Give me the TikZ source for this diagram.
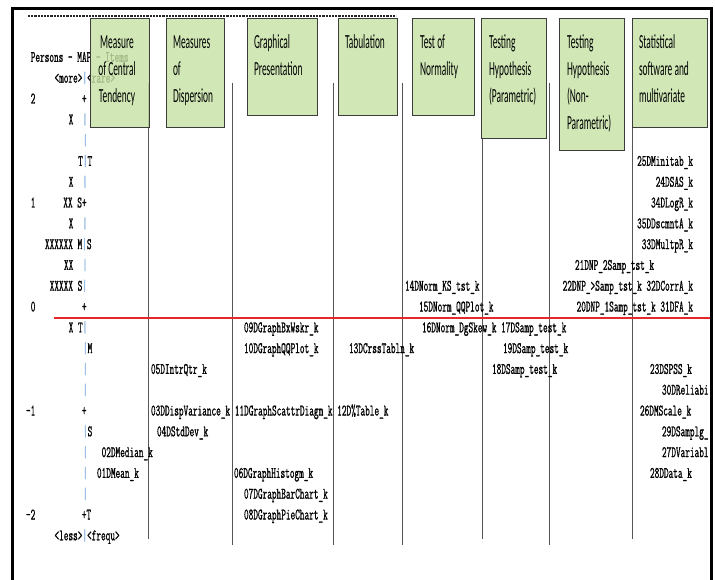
\documentclass[tikz,border=0pt]{standalone}
\usepackage{fontspec}
\usepackage{graphicx}
\newfontfamily\boxfont{Carlito}
\newfontfamily\mapfont{Latin Modern Mono}[FakeBold=1.2]
\definecolor{boxgreen}{RGB}{200,228,166}
\definecolor{boxline}{RGB}{60,60,60}
\definecolor{barblue}{RGB}{130,175,225}
\definecolor{redline}{RGB}{232,40,40}
\definecolor{gridline}{RGB}{85,85,85}
\newcommand\mtxt[1]{\scalebox{0.565}[1]{\fontsize{16}{16}\selectfont\mapfont #1}}
\newcommand\vb{\textcolor{barblue}{|}}
\newcommand\btxt[2]{\scalebox{0.47}[1]{\fontsize{20}{27}\selectfont\boxfont\begin{tabular}[t]{@{}#1@{}}#2\end{tabular}}}
\newcommand\rowy[1]{61.9+20.8*#1}
\newcommand\colx[1]{26+4.75*#1}
\begin{document}
\begin{tikzpicture}[x=1pt,y=-1pt,
  maptext/.style={inner sep=0pt, outer sep=0pt, anchor=base west},
  itemlbl/.style={inner sep=0pt, outer sep=0pt, anchor=base west},
  itemlblr/.style={inner sep=0pt, outer sep=0pt, anchor=base east},
  gbox/.style={draw=boxline, line width=0.9pt, fill=boxgreen, fill opacity=0.82, inner sep=0pt, anchor=north west},
  boxlbl/.style={inner sep=0pt, outer sep=0pt, anchor=base west},
  gridln/.style={draw=gridline, line width=0.8pt},
]
\useasboundingbox (0,0) rectangle (715,580);
\clip (0,0) rectangle (715,580);
\fill[white] (0,0) rectangle (715,580);

% dashed top line
\draw[black!85, line width=1.1pt, dash pattern=on 2.2pt off 1pt] (28,16) -- (396,16);

% vertical column lines
\draw[gridln] (148,83) -- (148,539);
\draw[gridln] (232,83) -- (232,545);
\draw[gridln] (333,83) -- (333,545);
\draw[gridln] (402,83) -- (402,545);
\draw[gridln] (482,138) -- (482,539);
\draw[gridln] (549,83) -- (549,545);
\draw[gridln] (632,127) -- (632,539);

% red zero line
\draw[redline, line width=2pt] (54,318) -- (712,318);

% person map
\node[maptext] (p0) at ({\colx{1}},{\rowy{0}}) {\mtxt{Persons~-~MAP~-~Items}};
\node[maptext] (p1) at ({\colx{6}},{\rowy{1}}) {\mtxt{<more>\vb<rare>}};
\node[maptext] (p2) at ({\colx{1}},{\rowy{2}}) {\mtxt{2~~~~~~~~~~+}};
\node[maptext] (p3) at ({\colx{9}},{\rowy{3}}) {\mtxt{X~~\vb}};
\node[maptext] (p4) at ({\colx{12}},{\rowy{4}}) {\mtxt{\vb}};
\node[maptext] (p5) at ({\colx{11}},{\rowy{5}}) {\mtxt{T\vb T}};
\node[maptext] (p6) at ({\colx{9}},{\rowy{6}}) {\mtxt{X~~\vb}};
\node[maptext] (p7) at ({\colx{1}},{\rowy{7}}) {\mtxt{1~~~~~~XX~S+}};
\node[maptext] (p8) at ({\colx{9}},{\rowy{8}}) {\mtxt{X~~\vb}};
\node[maptext] (p9) at ({\colx{4}},{\rowy{9}}) {\mtxt{XXXXXX~M\vb S}};
\node[maptext] (p10) at ({\colx{8}},{\rowy{10}}) {\mtxt{XX~~\vb}};
\node[maptext] (p11) at ({\colx{5}},{\rowy{11}}) {\mtxt{XXXXX~S\vb}};
\node[maptext] (p12) at ({\colx{1}},{\rowy{12}}) {\mtxt{0~~~~~~~~~~+}};
\node[maptext] (p13) at ({\colx{9}},{\rowy{13}}) {\mtxt{X~T\vb}};
\node[maptext] (p14) at ({\colx{12}},{\rowy{14}}) {\mtxt{\vb M}};
\node[maptext] (p15) at ({\colx{12}},{\rowy{15}}) {\mtxt{\vb}};
\node[maptext] (p16) at ({\colx{12}},{\rowy{16}}) {\mtxt{\vb}};
\node[maptext] (p17) at ({\colx{0}},{\rowy{17}}) {\mtxt{-1~~~~~~~~~~+}};
\node[maptext] (p18) at ({\colx{12}},{\rowy{18}}) {\mtxt{\vb S}};
\node[maptext] (p19) at ({\colx{12}},{\rowy{19}}) {\mtxt{\vb~~~02DMedian\_k}};
\node[maptext] (p20) at ({\colx{12}},{\rowy{20}}) {\mtxt{\vb~~01DMean\_k}};
\node[maptext] (p21) at ({\colx{12}},{\rowy{21}}) {\mtxt{\vb}};
\node[maptext] (p22) at ({\colx{0}},{\rowy{22}}) {\mtxt{-2~~~~~~~~~~+T}};
\node[maptext] (p23) at ({\colx{6}},{\rowy{23}}) {\mtxt{<less>\vb<frequ>}};

% item labels
\node[itemlblr] (i25) at (693,{\rowy{5}}) {\mtxt{25DMinitab\_k}};
\node[itemlblr] (i24) at (693,{\rowy{6}}) {\mtxt{24DSAS\_k}};
\node[itemlblr] (i34) at (693,{\rowy{7}}) {\mtxt{34DLogR\_k}};
\node[itemlblr] (i35) at (693,{\rowy{8}}) {\mtxt{35DDscmntA\_k}};
\node[itemlblr] (i33) at (693,{\rowy{9}}) {\mtxt{33DMultpR\_k}};
\node[itemlbl] (i21) at (575,{\rowy{10}}) {\mtxt{21DNP\_2Samp\_tst\_k}};
\node[itemlbl] (i14) at (405,{\rowy{11}}) {\mtxt{14DNorm\_KS\_tst\_k}};
\node[itemlblr] (i22) at (693,{\rowy{11}}) {\mtxt{22DNP\_>Samp\_tst\_k~32DCorrA\_k}};
\node[itemlbl] (i15) at (419,{\rowy{12}}) {\mtxt{15DNorm\_QQPlot\_k}};
\node[itemlblr] (i20) at (693,{\rowy{12}}) {\mtxt{20DNP\_1Samp\_tst\_k~31DFA\_k}};
\node[itemlbl] (i09) at (244,{\rowy{13}}) {\mtxt{09DGraphBxWskr\_k}};
\node[itemlbl] (i16) at (422,{\rowy{13}}) {\mtxt{16DNorm\_DgSkew\_k~17DSamp\_test\_k}};
\node[itemlbl] (i10) at (244,{\rowy{14}}) {\mtxt{10DGraphQQPlot\_k}};
\node[itemlbl] (i13) at (349,{\rowy{14}}) {\mtxt{13DCrssTabln\_k}};
\node[itemlbl] (i19) at (503,{\rowy{14}}) {\mtxt{19DSamp\_test\_k}};
\node[itemlbl] (i05) at (151,{\rowy{15}}) {\mtxt{05DIntrQtr\_k}};
\node[itemlbl] (i18) at (492,{\rowy{15}}) {\mtxt{18DSamp\_test\_k}};
\node[itemlbl] (i23) at (650,{\rowy{15}}) {\mtxt{23DSPSS\_k}};
\node[itemlbl] (i30) at (662,{\rowy{16}}) {\mtxt{30DReliabi}};
\node[itemlbl] (i03) at (151,{\rowy{17}}) {\mtxt{03DDispVariance\_k~11DGraphScattrDiagm\_k~12D\%Table\_k}};
\node[itemlbl] (i26) at (640,{\rowy{17}}) {\mtxt{26DMScale\_k}};
\node[itemlbl] (i04) at (157,{\rowy{18}}) {\mtxt{04DStdDev\_k}};
\node[itemlbl] (i29) at (662,{\rowy{18}}) {\mtxt{29DSamplg\_}};
\node[itemlbl] (i27) at (662,{\rowy{19}}) {\mtxt{27DVariabl}};
\node[itemlbl] (i06) at (234,{\rowy{20}}) {\mtxt{06DGraphHistogm\_k}};
\node[itemlbl] (i28) at (650,{\rowy{20}}) {\mtxt{28DData\_k}};
\node[itemlbl] (i07) at (244,{\rowy{21}}) {\mtxt{07DGraphBarChart\_k}};
\node[itemlbl] (i08) at (244,{\rowy{22}}) {\mtxt{08DGraphPieChart\_k}};

% green boxes
\node[gbox, minimum width=59pt, minimum height=109pt] (b1) at (90,18) {};
\node[gbox, minimum width=58pt, minimum height=109pt] (b2) at (166,18) {};
\node[gbox, minimum width=70pt, minimum height=97pt] (b3) at (247,18) {};
\node[gbox, minimum width=59pt, minimum height=97pt] (b4) at (338,18) {};
\node[gbox, minimum width=62pt, minimum height=97pt] (b5) at (412,18) {};
\node[gbox, minimum width=65pt, minimum height=120pt] (b6) at (481,18) {};
\node[gbox, minimum width=65pt, minimum height=132pt] (b7) at (559,18) {};
\node[gbox, minimum width=75pt, minimum height=109pt] (b8) at (632,18) {};

\node[boxlbl, anchor=base] (t1) at (117,49) {\btxt{c}{Measure\\of Central\\Tendency}};
\node[boxlbl] (t2) at (173,49) {\btxt{l}{Measures\\of\\Dispersion}};
\node[boxlbl] (t3) at (254,49) {\btxt{l}{Graphical\\Presentation}};
\node[boxlbl] (t4) at (345,49) {\btxt{l}{Tabulation}};
\node[boxlbl] (t5) at (420,49) {\btxt{l}{Test of\\Normality}};
\node[boxlbl] (t6) at (489,49) {\btxt{l}{Testing\\Hypothesis\\(Parametric)}};
\node[boxlbl] (t7) at (567,49) {\btxt{l}{Testing\\Hypothesis\\(Non-\\Parametric)}};
\node[boxlbl] (t8) at (639,49) {\btxt{l}{Statistical\\software and\\multivariate}};

% outer frame
\draw[black, line width=2.6pt] (12.5,585) -- (12.5,8.5) -- (711.5,8.5) -- (711.5,585);
\end{tikzpicture}
\end{document}
